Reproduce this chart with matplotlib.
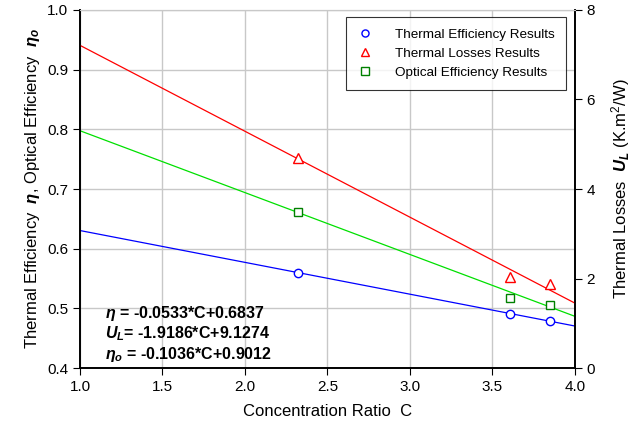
import numpy as np
import matplotlib
matplotlib.use('Agg')
import matplotlib.pyplot as plt

plt.rcParams['font.family'] = ['Liberation Sans', 'DejaVu Sans']
plt.rcParams['mathtext.fontset'] = 'custom'
plt.rcParams['mathtext.it'] = 'Liberation Sans:italic:bold'
plt.rcParams['mathtext.rm'] = 'Liberation Sans'

# measured points
conc_ratio = [2.32, 3.61, 3.85]
thermal_eff = [0.560, 0.491, 0.479]
optical_eff = [0.661, 0.518, 0.505]
thermal_loss = [4.69, 2.04, 1.87]

# fitted lines
eta_fit = (-0.0533, 0.6837)
ul_fit = (-1.9186, 9.1274)
eta_o_fit = (-0.1036, 0.9012)
c_line = [1.0, 4.0]

fig, ax1 = plt.subplots(figsize=(6.4, 4.32), dpi=100)
fig.subplots_adjust(left=0.125, right=0.898, top=0.977, bottom=0.148)
ax2 = ax1.twinx()

ax1.set_xlim(1.0, 4.0)
ax1.set_ylim(0.4, 1.0)
ax2.set_ylim(0, 8)

ax1.grid(True, color='#c8c8c8', linewidth=1)
ax1.set_axisbelow(True)

cl = np.array(c_line)
ax1.plot(cl, eta_fit[0] * cl + eta_fit[1], color='blue', lw=0.9)
ax1.plot(cl, eta_o_fit[0] * cl + eta_o_fit[1], color='#00e000', lw=0.9)
ax2.plot(cl, ul_fit[0] * cl + ul_fit[1], color='red', lw=0.9)

h1, = ax1.plot(conc_ratio, thermal_eff, 'o', mfc='white', mec='blue', ms=6, mew=1)
h3, = ax1.plot(conc_ratio, optical_eff, 's', mfc='white', mec='green', ms=6, mew=1)
h2, = ax2.plot(conc_ratio, thermal_loss, '^', mfc='white', mec='red', ms=7, mew=1)

ax1.set_xticks(np.arange(1.0, 4.01, 0.5))
ax1.set_xticklabels([f'{v:.1f}' for v in np.arange(1.0, 4.01, 0.5)])
ax1.set_yticks(np.arange(0.4, 1.01, 0.1))
ax1.set_yticklabels([f'{v:.1f}' for v in np.arange(0.4, 1.01, 0.1)])
ax2.set_yticks([0, 2, 4, 6, 8])

for ax in (ax1, ax2):
    ax.tick_params(labelsize=11, color='black', length=5, direction='out')
    for s in ('left', 'bottom', 'right'):
        ax.spines[s].set_linewidth(1.2)
    ax.spines['top'].set_color('#c8c8c8')

ax1.set_xlabel('Concentration Ratio  C', fontsize=12, labelpad=7)
ax1.set_ylabel(r'Thermal Efficiency  $\eta$, Optical Efficiency  $\eta_o$', fontsize=12)
ax2.set_ylabel(r'Thermal Losses  $U_L$ (K.m$^{2}$/W)', fontsize=12, labelpad=10)

eq = (r'$\eta$ = -0.0533*C+0.6837' + '\n' +
      r'$U_L$= -1.9186*C+9.1274' + '\n' +
      r'$\eta_o$ = -0.1036*C+0.9012')
ax1.text(0.05, 0.01, eq, transform=ax1.transAxes, fontsize=11.5,
         fontweight='bold', ha='left', va='bottom', linespacing=1.15)

leg = ax1.legend([h1, h2, h3],
                 ['Thermal Efficiency Results', 'Thermal Losses Results',
                  'Optical Efficiency Results'],
                 loc='upper right', bbox_to_anchor=(0.996, 1.0), fontsize=9.7,
                 frameon=True, fancybox=False, edgecolor='black',
                 borderpad=0.85, handlelength=1.2, handletextpad=1.6,
                 labelspacing=0.5, markerscale=0.85)
leg.get_frame().set_linewidth(0.8)
leg.set_zorder(10)

plt.savefig('out.png', dpi=100)
